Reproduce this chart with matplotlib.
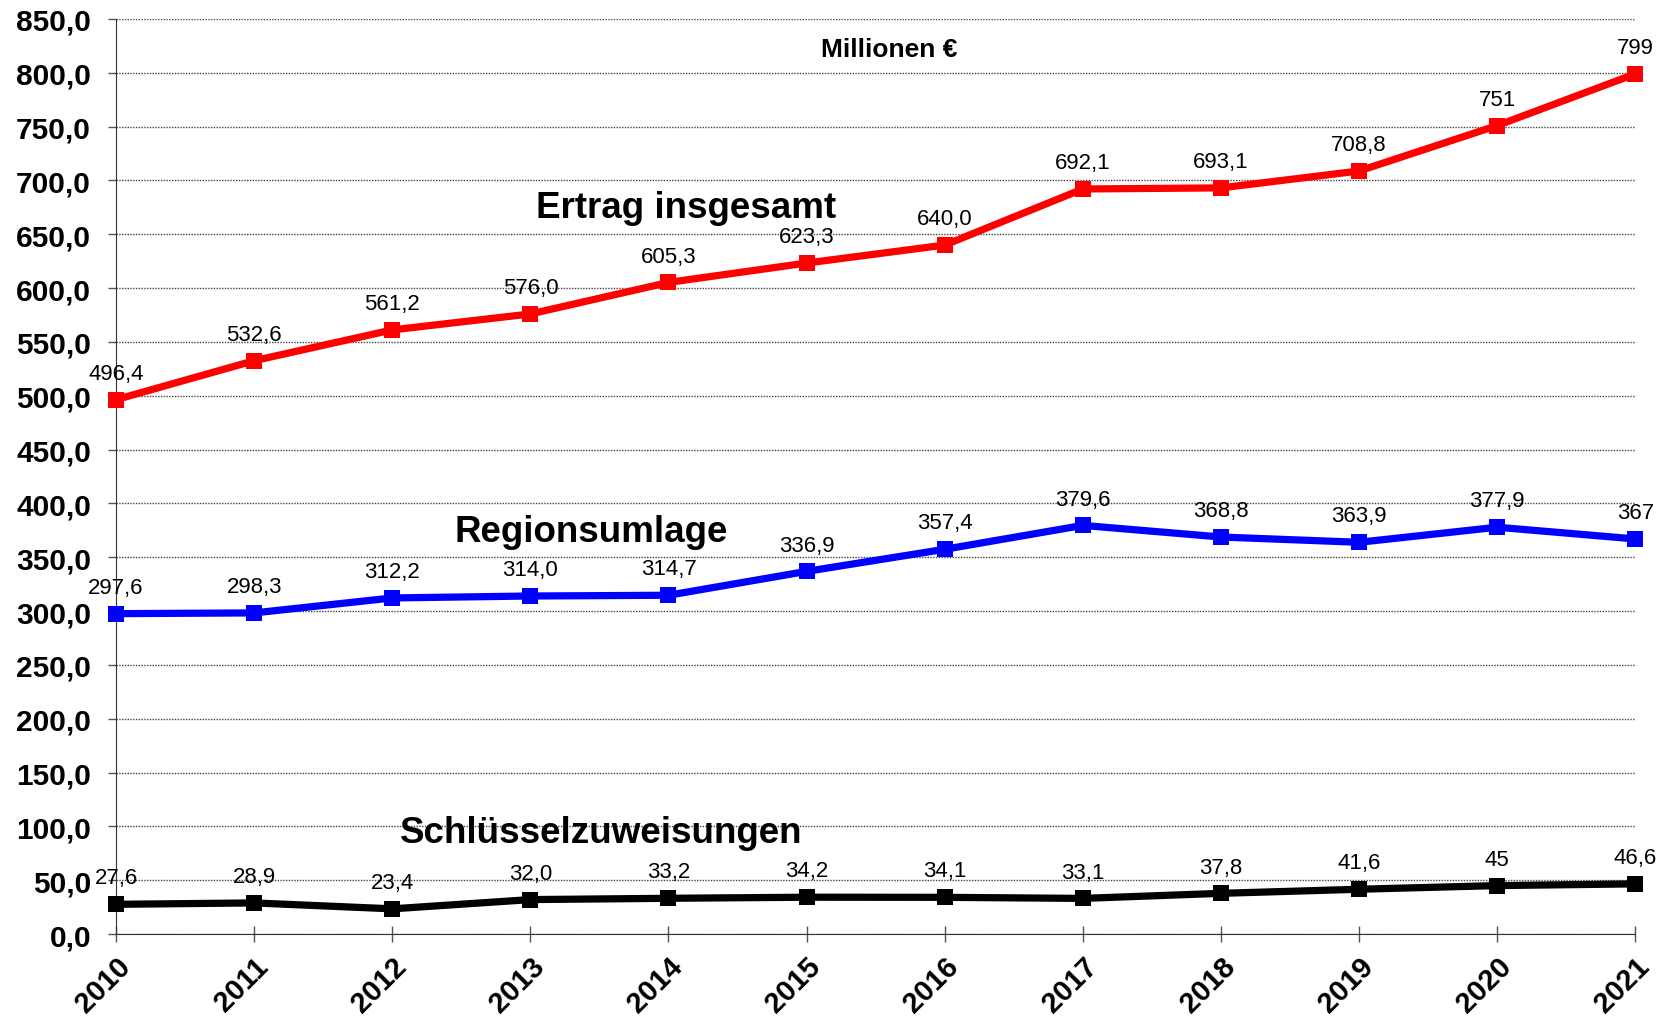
import numpy as np
import matplotlib
matplotlib.use("Agg")
import matplotlib.pyplot as plt

plt.rcParams["font.family"] = ["Liberation Sans", "DejaVu Sans"]

# ============================================================
# DATA
# ============================================================

years = [2010, 2011, 2012, 2013, 2014, 2015, 2016, 2017, 2018, 2019, 2020, 2021]

ertrag = [496.4, 532.6, 561.2, 576.0, 605.3, 623.3, 640.0, 692.1, 693.1, 708.8, 751, 799]
ertrag_labels = ["496,4", "532,6", "561,2", "576,0", "605,3", "623,3",
                 "640,0", "692,1", "693,1", "708,8", "751", "799"]

region = [297.6, 298.3, 312.2, 314.0, 314.7, 336.9, 357.4, 379.6, 368.8, 363.9, 377.9, 367]
region_labels = ["297,6", "298,3", "312,2", "314,0", "314,7", "336,9",
                 "357,4", "379,6", "368,8", "363,9", "377,9", "367"]

schluessel = [27.6, 28.9, 23.4, 32.0, 33.2, 34.2, 34.1, 33.1, 37.8, 41.6, 45, 46.6]
schluessel_labels = ["27,6", "28,9", "23,4", "32,0", "33,2", "34,2",
                     "34,1", "33,1", "37,8", "41,6", "45", "46,6"]

y_ticks = np.arange(0, 851, 50)
y_tick_labels = [f"{v:.1f}".replace(".", ",") for v in y_ticks]

# ============================================================
# PLOT
# ============================================================

fig = plt.figure(figsize=(16.63, 10.2), dpi=100)
ax = fig.add_axes([0.0698, 0.0833, 0.9135, 0.8971])

series = [
    (ertrag, ertrag_labels, "#ff0000"),
    (region, region_labels, "#0000ff"),
    (schluessel, schluessel_labels, "#000000"),
]

for values, labels, color in series:
    ax.plot(years, values, color=color, linewidth=5.2, marker="s",
            markersize=11, markeredgewidth=0, clip_on=False, zorder=3)
    for x, v, lab in zip(years, values, labels):
        ax.annotate(lab, (x, v), xytext=(0, 15), textcoords="offset points",
                    ha="center", va="baseline", fontsize=16, color="black",
                    zorder=4, annotation_clip=False)

# series names inside the plot
ax.text(2014.13, 666, "Ertrag insgesamt", ha="center", va="baseline",
        fontsize=26.5, fontweight="bold")
ax.text(2013.44, 365, "Regionsumlage", ha="center", va="baseline",
        fontsize=26.5, fontweight="bold")
ax.text(2013.51, 85.5, "Schlüsselzuweisungen", ha="center", va="baseline",
        fontsize=26.5, fontweight="bold")
ax.text(2015.6, 822, "Millionen €", ha="center", va="center",
        fontsize=19, fontweight="bold")

ax.set_xlim(2010, 2021)
ax.set_ylim(0, 850)

ax.set_yticks(y_ticks)
ax.set_yticklabels(y_tick_labels, fontsize=21.5, fontweight="bold")
ax.set_xticks(years)
ax.set_xticklabels([str(y) for y in years], fontsize=21, fontweight="bold",
                   rotation=45, ha="right", rotation_mode="anchor")

ax.tick_params(axis="y", length=6, width=1, color="#555555", pad=12)
ax.tick_params(axis="x", direction="inout", length=12, width=1,
               color="#555555", pad=7)

ax.grid(True, axis="y", linestyle=(0, (1, 1)), linewidth=1.0, color="#444444")
ax.set_axisbelow(True)

for side in ["top", "right"]:
    ax.spines[side].set_visible(False)
ax.spines["left"].set_color("#333333")
ax.spines["bottom"].set_color("#333333")

fig.savefig("out.png", dpi=100)
plt.close()
